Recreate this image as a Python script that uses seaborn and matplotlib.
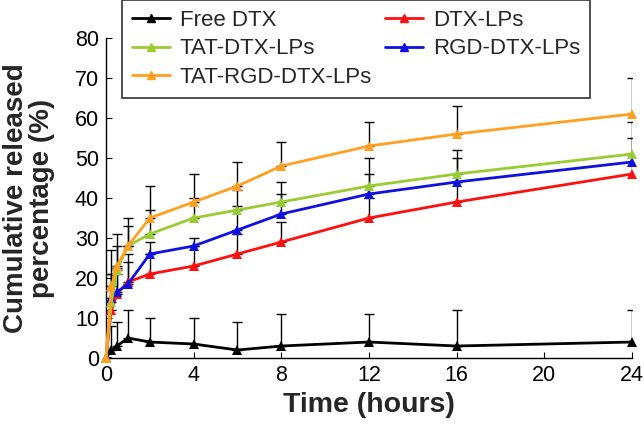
import matplotlib
matplotlib.use("Agg")
import matplotlib.pyplot as plt
import seaborn as sns
import pandas as pd

time_h = [0, 0.25, 0.5, 1, 2, 4, 6, 8, 12, 16, 24]

free_dtx = [0, 2, 3, 5, 4, 3.5, 2, 3, 4, 3, 4]
free_dtx_err = [0, 6, 6, 7, 6, 6.5, 7, 8, 7, 9, 8]

dtx_lps = [0, 12, 16, 19, 21, 23, 26, 29, 35, 39, 46]
dtx_lps_err = [0, 5, 5, 5, 5, 5, 5, 5, 5, 5, 5]

tat_dtx_lps = [0, 14, 22, 28, 31, 35, 37, 39, 43, 46, 51]
tat_dtx_lps_err = [0, 7, 6, 5, 6, 5, 5, 5, 7, 6, 8]

rgd_dtx_lps = [0, 15, 16.5, 18.5, 26, 28, 32, 36, 41, 44, 49]
rgd_dtx_lps_err = [0, 6, 6, 7.5, 3, 2, 6, 5, 5, 6, 6]

tat_rgd_dtx_lps = [0, 18, 23, 28, 35, 39, 43, 48, 53, 56, 61]
tat_rgd_dtx_lps_err = [0, 9, 8, 7, 8, 7, 6, 6, 6, 7, 9]

series = {
    "Free DTX": (free_dtx, free_dtx_err, "#000000"),
    "TAT-DTX-LPs": (tat_dtx_lps, tat_dtx_lps_err, "#99cc33"),
    "TAT-RGD-DTX-LPs": (tat_rgd_dtx_lps, tat_rgd_dtx_lps_err, "#ffa020"),
    "DTX-LPs": (dtx_lps, dtx_lps_err, "#ff1010"),
    "RGD-DTX-LPs": (rgd_dtx_lps, rgd_dtx_lps_err, "#1010e0"),
}

rows = []
for name, (vals, errs, _) in series.items():
    for t, v in zip(time_h, vals):
        rows.append({"Time": t, "Release": v, "Group": name})
df = pd.DataFrame(rows)

sns.set_style("ticks")
plt.rcParams["font.family"] = ["Liberation Sans", "DejaVu Sans"]

fig = plt.figure(figsize=(6.44, 4.3), dpi=100)
ax = fig.add_axes([0.1646, 0.1674, 0.8166, 0.7442])

# error bars first (upper only), black
draw_order = ["Free DTX", "DTX-LPs", "RGD-DTX-LPs", "TAT-DTX-LPs", "TAT-RGD-DTX-LPs"]
for name in draw_order:
    vals, errs, col = series[name]
    ax.errorbar(time_h, vals, yerr=[[0] * len(errs), errs], fmt="none",
                ecolor="black", elinewidth=1, capsize=3.5, capthick=1, zorder=1)

palette = {k: v[2] for k, v in series.items()}
sns.lineplot(data=df, x="Time", y="Release", hue="Group", hue_order=draw_order,
             palette=palette, marker="^", markersize=7.5, markeredgewidth=0,
             linewidth=2, ax=ax, legend=False, zorder=3, clip_on=False)

ax.set_xlim(0, 24)
ax.set_ylim(0, 80)
ax.set_xticks([0, 4, 8, 12, 16, 20, 24])
ax.set_yticks(range(0, 81, 10))
ax.tick_params(direction="in", length=4, labelsize=15.5, colors="black", pad=5)
sns.despine(ax=ax)
for s in ["left", "bottom"]:
    ax.spines[s].set_color("black")
    ax.spines[s].set_linewidth(1)

ax.set_xlabel("Time (hours)", fontsize=20.5, fontweight="bold", labelpad=4)
ax.set_ylabel("Cumulative released\npercentage (%)", fontsize=20,
              fontweight="bold", labelpad=14, linespacing=1.0)

handles = [plt.Line2D([], [], color=series[n][2], marker="^", markersize=6,
                      linewidth=2, label=n)
           for n in ["Free DTX", "TAT-DTX-LPs", "TAT-RGD-DTX-LPs", "DTX-LPs", "RGD-DTX-LPs"]]
leg = ax.legend(handles=handles, ncol=2, loc="upper left",
                bbox_to_anchor=(122 / 644, 1.0), bbox_transform=fig.transFigure,
                fontsize=16, frameon=True, fancybox=False, edgecolor="black",
                handlelength=1.7, handletextpad=0.45, columnspacing=0.6,
                labelspacing=0.33, borderpad=0.45, borderaxespad=0)
leg.get_frame().set_linewidth(1.2)

fig.savefig("out.png", dpi=100)
